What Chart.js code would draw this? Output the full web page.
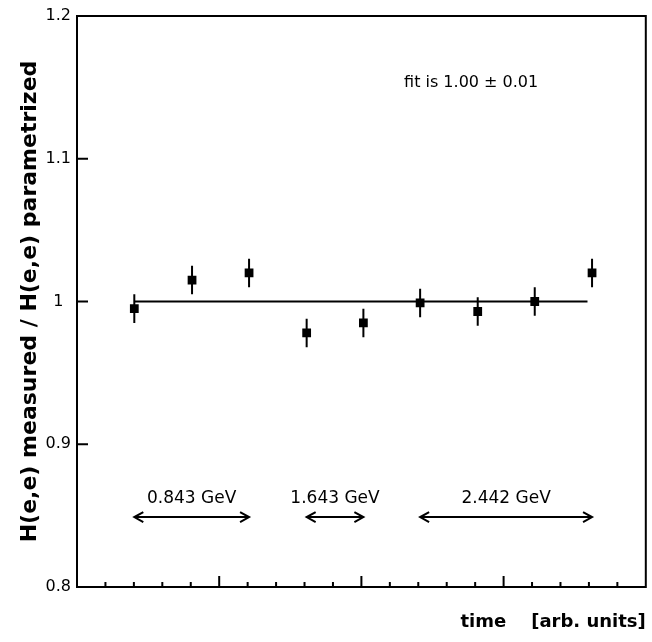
<!DOCTYPE html>
<html>
<head>
<meta charset="utf-8">
<script src="https://cdn.jsdelivr.net/npm/chart.js@4.4.1/dist/chart.umd.min.js"></script>
<style>
  html, body { margin: 0; padding: 0; background: #fff; }
  #wrap { width: 652px; height: 642px; }
</style>
</head>
<body>
<div id="wrap"><canvas id="ratioChart" width="652" height="642"></canvas></div>
<script>
// ---- DATA ----
const timeX = [0.403, 0.809, 1.21, 1.615, 2.014, 2.413, 2.818, 3.219, 3.622];
const ratio = [0.995, 1.015, 1.020, 0.978, 0.985, 0.999, 0.993, 1.000, 1.020];
const ratioErr = [0.010, 0.010, 0.010, 0.010, 0.010, 0.010, 0.010, 0.010, 0.010];

const fitValue = 1.00;
const fitRange = [0.403, 3.59];
const fitText = 'fit is 1.00 \u00b1 0.01';

const beamLabels = ['0.843 GeV', '1.643 GeV', '2.442 GeV'];
const beamStart = [0.403, 1.615, 2.413];
const beamEnd = [1.21, 2.014, 3.622];
const beamArrowY = 0.849;
const beamLabelY = 0.862;

const yTicks = [0.8, 0.9, 1.0, 1.1, 1.2];
const xMajorTicks = [1, 2, 3];
const xMinorTicks = [0.2, 0.4, 0.6, 0.8, 1.2, 1.4, 1.6, 1.8, 2.2, 2.4, 2.6, 2.8, 3.2, 3.4, 3.6, 3.8];

const points = timeX.map((x, i) => ({ x: x, y: ratio[i] }));
const fitLine = fitRange.map(x => ({ x: x, y: fitValue }));

// frame, inward ticks, error bars and labels
const decorPlugin = {
    id: 'decor',
    beforeDatasetsDraw(chart) {
        const { ctx, chartArea: a, scales: { x, y } } = chart;
        ctx.save();
        ctx.strokeStyle = '#000';
        ctx.lineWidth = 2;
        ctx.strokeRect(a.left, a.top, a.right - a.left, a.bottom - a.top);

        ctx.beginPath();
        xMajorTicks.forEach(v => {
            const px = x.getPixelForValue(v);
            ctx.moveTo(px, a.bottom);
            ctx.lineTo(px, a.bottom - 11);
        });
        xMinorTicks.forEach(v => {
            const px = x.getPixelForValue(v);
            ctx.moveTo(px, a.bottom);
            ctx.lineTo(px, a.bottom - 5);
        });
        yTicks.forEach(v => {
            const py = y.getPixelForValue(v);
            ctx.moveTo(a.left, py);
            ctx.lineTo(a.left + 11, py);
        });
        ctx.stroke();

        // error bars
        ctx.lineWidth = 2;
        ctx.beginPath();
        timeX.forEach((tx, i) => {
            const px = x.getPixelForValue(tx);
            ctx.moveTo(px, y.getPixelForValue(ratio[i] - ratioErr[i]));
            ctx.lineTo(px, y.getPixelForValue(ratio[i] + ratioErr[i]));
        });
        ctx.stroke();
        ctx.restore();
    },
    afterDatasetsDraw(chart) {
        const { ctx, scales: { x, y } } = chart;
        ctx.save();
        ctx.fillStyle = '#000';
        ctx.strokeStyle = '#000';
        ctx.textBaseline = 'middle';
        ctx.textAlign = 'left';
        ctx.font = '16px "DejaVu Sans"';
        ctx.fillText(fitText, x.getPixelForValue(2.3), y.getPixelForValue(1.153));

        // beam energy ranges
        ctx.lineWidth = 2;
        ctx.textAlign = 'center';
        ctx.font = '17px "DejaVu Sans"';
        beamLabels.forEach((lbl, i) => {
            const x0 = x.getPixelForValue(beamStart[i]);
            const x1 = x.getPixelForValue(beamEnd[i]);
            const py = y.getPixelForValue(beamArrowY);
            ctx.fillText(lbl, (x0 + x1) / 2, y.getPixelForValue(beamLabelY));
            ctx.beginPath();
            ctx.moveTo(x0, py);
            ctx.lineTo(x1, py);
            ctx.moveTo(x0 + 9, py - 5);
            ctx.lineTo(x0, py);
            ctx.lineTo(x0 + 9, py + 5);
            ctx.moveTo(x1 - 9, py - 5);
            ctx.lineTo(x1, py);
            ctx.lineTo(x1 - 9, py + 5);
            ctx.stroke();
        });
        ctx.restore();
    }
};

const ctx = document.getElementById('ratioChart').getContext('2d');
new Chart(ctx, {
    type: 'scatter',
    data: {
        datasets: [
            {
                type: 'line',
                label: 'fit',
                data: fitLine,
                borderColor: '#000',
                borderWidth: 2,
                pointRadius: 0,
                fill: false,
            },
            {
                label: 'ratio',
                data: points,
                pointStyle: 'rect',
                pointRadius: 6.2,
                pointBackgroundColor: '#000',
                pointBorderWidth: 0,
            }
        ]
    },
    options: {
        responsive: false,
        animation: false,
        devicePixelRatio: 1,
        layout: { padding: { top: 16, right: -3, left: 0, bottom: 0 } },
        plugins: { legend: { display: false }, tooltip: { enabled: false } },
        scales: {
            x: {
                type: 'linear',
                min: 0,
                max: 4,
                grid: { display: false },
                border: { display: false },
                ticks: { display: false },
                title: {
                    display: true,
                    text: 'time    [arb. units]',
                    align: 'end',
                    color: '#000',
                    font: { family: 'DejaVu Sans', size: 18, weight: 'bold' },
                    padding: { top: 0, bottom: 9 }
                },
                afterFit: (scale) => { scale.height = 55; }
            },
            y: {
                min: 0.8,
                max: 1.2,
                grid: { display: false, drawTicks: false },
                border: { display: false },
                afterBuildTicks: (scale) => { scale.ticks = yTicks.map(v => ({ value: v })); },
                ticks: {
                    color: '#000',
                    crossAlign: 'center',
                    padding: 6,
                    font: { family: 'DejaVu Sans', size: 16 },
                    callback: (v) => String(+v.toFixed(1))
                },
                title: {
                    display: true,
                    text: 'H(e,e) measured / H(e,e) parametrized',
                    color: '#000',
                    font: { family: 'DejaVu Sans', size: 22, weight: 'bold' },
                    padding: { top: 17, bottom: 0 }
                },
                afterFit: (scale) => { scale.width = 77; }
            }
        }
    },
    plugins: [decorPlugin]
});
</script>
</body>
</html>
